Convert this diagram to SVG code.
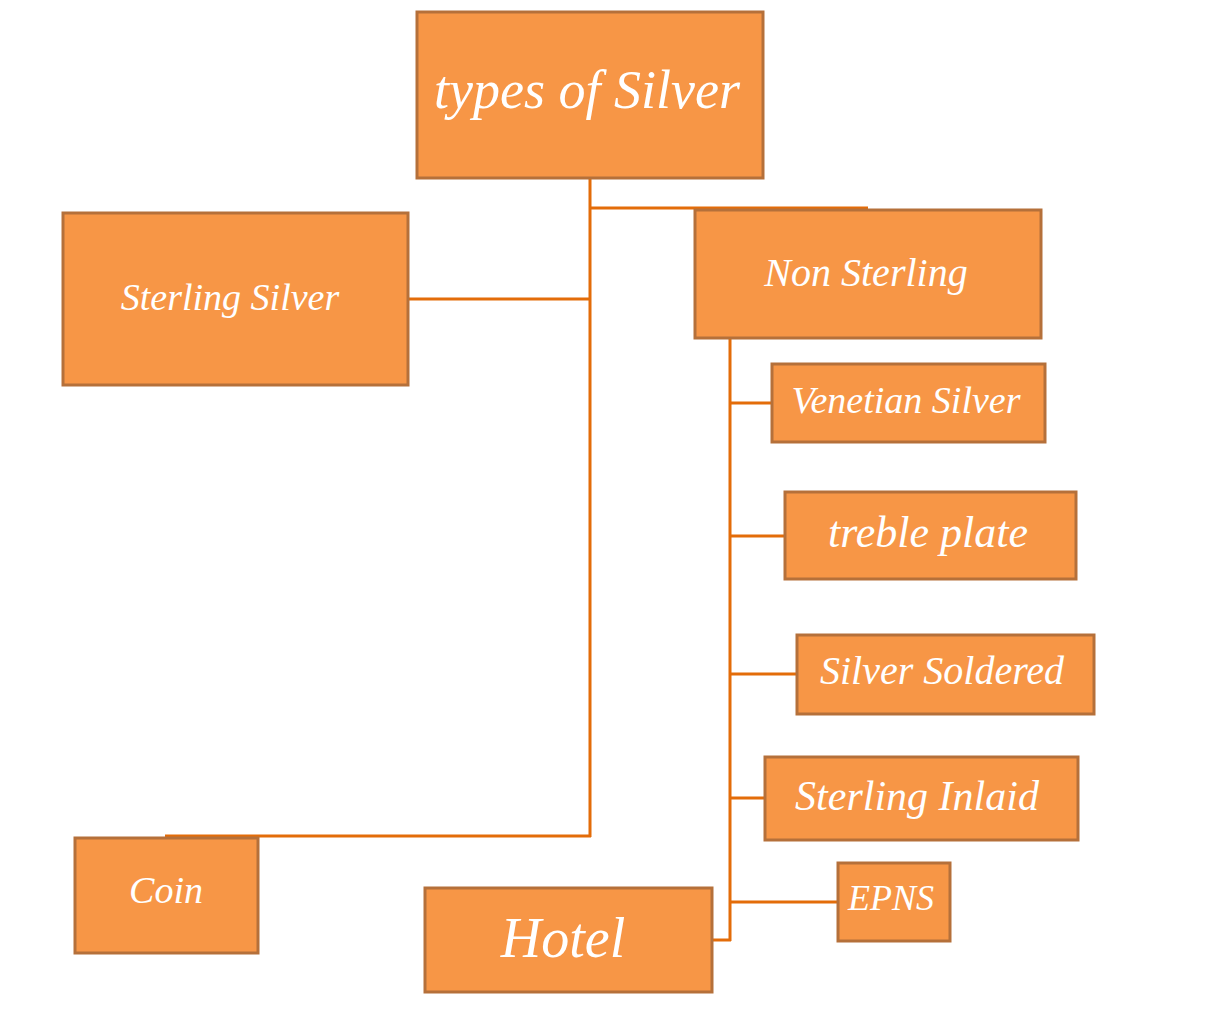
<svg xmlns="http://www.w3.org/2000/svg" width="1225" height="1023" viewBox="0 0 1225 1023">
<style>
.n rect{fill:#F79646;stroke:#B5703A;stroke-width:3}
.n text{fill:#fff;font-family:"Liberation Serif",serif;font-style:italic;text-anchor:middle;dominant-baseline:central}
#c line{stroke:#E36C09;stroke-width:3}
</style>
<rect width="1225" height="1023" fill="#fff"/>
<g id="c">
<line x1="590" y1="178" x2="590" y2="837"/>
<line x1="590" y1="208" x2="868" y2="208"/>
<line x1="408" y1="299" x2="590" y2="299"/>
<line x1="165" y1="836" x2="591" y2="836"/>
<line x1="730" y1="338" x2="730" y2="941"/>
<line x1="712" y1="940" x2="731" y2="940"/>
<line x1="730" y1="403" x2="772" y2="403"/>
<line x1="730" y1="536" x2="785" y2="536"/>
<line x1="730" y1="674" x2="797" y2="674"/>
<line x1="730" y1="798" x2="765" y2="798"/>
<line x1="730" y1="902" x2="838" y2="902"/>
</g>
<g id="types" class="n"><rect x="417" y="12" width="346" height="166"/><text x="587" y="90" font-size="54">types of Silver</text></g>
<g id="sterling" class="n"><rect x="63" y="213" width="345" height="172"/><text x="230" y="297" font-size="38">Sterling Silver</text></g>
<g id="nonsterling" class="n"><rect x="695" y="210" width="346" height="128"/><text x="866" y="272" font-size="40">Non Sterling</text></g>
<g id="venetian" class="n"><rect x="772" y="364" width="273" height="78"/><text x="906" y="400" font-size="38">Venetian Silver</text></g>
<g id="treble" class="n"><rect x="785" y="492" width="291" height="87"/><text x="928" y="532" font-size="44">treble plate</text></g>
<g id="soldered" class="n"><rect x="797" y="635" width="297" height="79"/><text x="942" y="670" font-size="40">Silver Soldered</text></g>
<g id="inlaid" class="n"><rect x="765" y="757" width="313" height="83"/><text x="917" y="796" font-size="42">Sterling Inlaid</text></g>
<g id="epns" class="n"><rect x="838" y="863" width="112" height="78"/><text x="891" y="898" font-size="36">EPNS</text></g>
<g id="coin" class="n"><rect x="75" y="838" width="183" height="115"/><text x="166" y="890" font-size="38">Coin</text></g>
<g id="hotel" class="n"><rect x="425" y="888" width="287" height="104"/><text x="563" y="938" font-size="56">Hotel</text></g>
</svg>
